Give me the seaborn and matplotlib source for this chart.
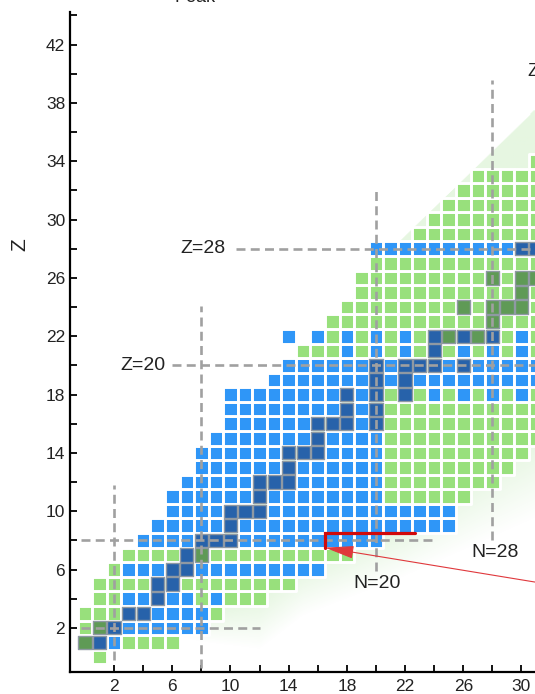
import numpy as np
import pandas as pd
import matplotlib
matplotlib.use("Agg")
import matplotlib.pyplot as plt
from matplotlib.colors import to_rgb
import seaborn as sns

sns.set_theme(style="ticks")
plt.rcParams["font.family"] = ["Liberation Sans", "DejaVu Sans"]

# Nuclide rows: proton number Z, first neutron number N in the row, and one
# code per cell along N (g/b = light green/blue, G/B = stable, '.' = no cell)
row_z = list(range(0, 35))
row_first_n = [1, 0, 0, 0, 1, 1, 2, 3, 4, 5, 6, 6, 7, 8, 8, 9, 10, 10, 10,
               13, 14, 15, 14, 17, 18, 19, 19, 20, 20, 23, 24, 25, 26, 27, 31]
row_codes = [
    "g",
    "GBbgggg",
    "gGBbbbbbb",
    "gggBBbbbbg",
    "ggbbBbbgbggg",
    "ggggBBgggggggg",
    "gbbbBBbbbbbbbbb",
    "ggggBGgggggggggg",
    "bbbbBBBbbbbbbbbbb",
    "bbbbbB" + "b" * 15,
    "bbbbBBB" + "b" * 13,
    "bbbbbbB" + "b" * 8 + "g" * 6,
    "bbbbbBBB" + "b" * 6 + "g" * 8,
    "bbbbbbB" + "b" * 6 + "g" * 9,
    "bbbbbbBBB" + "b" * 4 + "g" * 10,
    "b" * 7 + "B" + "b" * 4 + "g" * 11,
    "b" * 6 + "BBBbB" + "g" * 11,
    "b" * 8 + "BbB" + "g" * 11,
    "b" * 8 + "BbB" + "gBgbgbgbgbg",
    "b" * 7 + "BbB" + "b" * 9,
    "bbbbbbBbBBBbBbbbbb",
    "gggbgbgbgBgbgbgbg",
    "b.bgbgbgbgBGBGBgbg",
    "g" * 11 + "G" + "ggg",
    "g" * 8 + "GgGGGg",
    "g" * 11 + "Gg",
    "g" * 9 + "GgGG",
    "g" * 12,
    "b" * 10 + "BB",
    "g" * 9,
    "g" * 8,
    "g" * 7,
    "g" * 6,
    "g" * 5,
    "g",
]

# Magic-number guide lines
magic_n = [2, 8, 20, 28]
magic_n_span = [(-0.2, 11.8), (-0.75, 24.1), (5.9, 32.2), (8.0, 39.6)]
magic_z = [2, 8, 20, 28]
magic_z_span = [(-0.3, 12.0), (-0.3, 24.2), (6.0, 32.0), (10.4, 32.0)]

x_major = list(range(2, 31, 4))
y_major = list(range(2, 43, 4))

# build the cell table
recs = []
for z, n0, codes in zip(row_z, row_first_n, row_codes):
    for i, c in enumerate(codes):
        if c != ".":
            recs.append({"N": n0 + i, "Z": z, "code": c})
cells = pd.DataFrame(recs)

palette = {"g": "#98e07c", "b": "#2f96f7", "G": "#5f9a56", "B": "#2762aa"}

fig = plt.figure(figsize=(5.35, 6.94), dpi=100)
ax = fig.add_axes([70 / 535, 22 / 694, 1 - 70 / 535, (672 - 12) / 694])
xlim = (-1.03, 30.93)
ylim = (-1.03, 44.24)

# soft green band behind the chart
gx = np.linspace(-1.1, 33, 500)
gy = np.linspace(-1.1, 45, 700)
GX, GY = np.meshgrid(gx, gy)
zero_line = np.interp(GX, [4, 8, 12, 15, 22, 31], [2.0, 1.0, 0.5, 2.8, 5.5, 9.5])
full_line = np.interp(GX, [4, 8, 12, 15, 22, 31], [4.0, 3.0, 4.0, 6.0, 9.0, 15.0])
inten = np.clip((GY - zero_line) / (full_line - zero_line), 0, 1)
upper = np.interp(GX, [0, 18, 21.6, 30.9], [-2, 24, 28.5, 37.5])
inten[GY > upper] = 0
rgba = np.zeros(GX.shape + (4,))
rgba[..., :3] = to_rgb("#c4ebb8")
rgba[..., 3] = 0.42 * inten
ax.imshow(rgba, extent=(gx[0], gx[-1], gy[0], gy[-1]), origin="lower",
          aspect="auto", interpolation="bilinear", zorder=0)

light = cells[cells["code"].isin(["g", "b"])]
dark = cells[cells["code"].isin(["G", "B"])]
sns.scatterplot(data=light, x="N", y="Z", hue="code", palette=palette,
                marker="s", s=110, edgecolor="white", linewidth=2.1,
                legend=False, ax=ax, zorder=2)
sns.scatterplot(data=dark, x="N", y="Z", hue="code", palette=palette,
                marker="s", s=90, edgecolor="#8f99a3", linewidth=1.0,
                legend=False, ax=ax, zorder=2.5)

dash = dict(color="#a0a0a0", lw=1.9, ls=(0, (3.4, 2.0)), zorder=3,
            solid_capstyle="butt", dash_capstyle="butt")
for n, (z0, z1) in zip(magic_n, magic_n_span):
    ax.plot([n, n], [z0, z1], **dash)
for z, (n0, n1) in zip(magic_z, magic_z_span):
    ax.plot([n0, n1], [z, z], **dash)

lab = dict(fontsize=14, color="#222222", ha="center", va="center", zorder=4)
ax.text(4.0, 20.0, "Z=20", **lab)
ax.text(8.1, 28.05, "Z=28", **lab)
ax.text(20.1, 5.05, "N=20", **lab)
ax.text(28.2, 7.2, "N=28", **lab)

# red marker and pointer
ax.plot([22.7, 16.5, 16.5], [8.48, 8.48, 7.5], color="#d10a0a", lw=2.3,
        solid_joinstyle="miter", zorder=5)
ax.annotate("", xy=(16.5, 7.5), xytext=(32.7, 4.85),
            arrowprops=dict(arrowstyle="-|>,head_length=1.5,head_width=0.33",
                            color="#e0383c", lw=0.8, shrinkA=0, shrinkB=0),
            annotation_clip=False, zorder=5)

ax.set_xticks(x_major)
ax.set_xticks(list(range(4, 29, 4)), minor=True)
ax.set_yticks(y_major)
ax.set_yticks(list(range(4, 45, 4)), minor=True)
ax.set_xlim(*xlim)
ax.set_ylim(*ylim)
ax.tick_params(which="both", direction="in", length=5, width=1.3,
               color="black", labelsize=12.5, labelcolor="#222222")
ax.tick_params(axis="x", which="major", pad=5)
ax.tick_params(axis="y", which="major", pad=3.5)
for side in ("top", "right"):
    ax.spines[side].set_visible(False)
for side in ("left", "bottom"):
    ax.spines[side].set_linewidth(1.6)
    ax.spines[side].set_color("black")
ax.set_xlabel("")
ax.set_ylabel("")

fig.text(20 / 535, 1 - 245 / 694, "Z", rotation=90, fontsize=15,
         ha="center", va="center", color="#222222")
fig.text(195 / 535, 1 - 1.5 / 694, "Peak", fontsize=13, ha="center",
         va="baseline", color="#222222")
fig.text(527 / 535, 1 - 72 / 694, "Z=40", fontsize=13, ha="left",
         va="center", color="#222222")

fig.savefig("out.png", dpi=100)
